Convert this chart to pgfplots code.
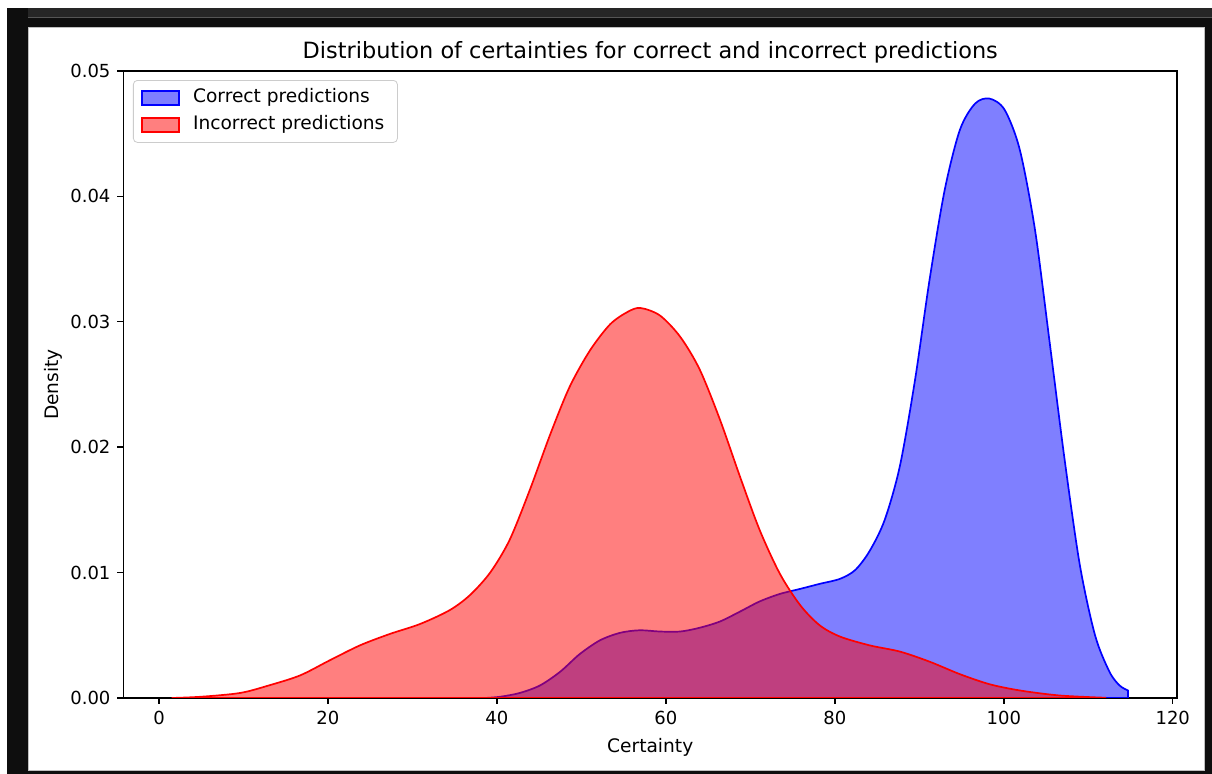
\documentclass[border=0pt]{standalone}
\usepackage{fontspec}
\setmainfont{DejaVu Sans}
\usepackage{pgfplots}
\pgfplotsset{compat=1.18}
\definecolor{framebg}{HTML}{0E0E0E}
\definecolor{barbg}{HTML}{262626}
\definecolor{barline}{HTML}{555555}

\begin{document}
\begin{tikzpicture}
\useasboundingbox (0pt,0pt) rectangle (606pt,387pt);
% screenshot frame
\fill[white] (0pt,0pt) rectangle (606pt,387pt);
\fill[framebg] (3.5pt,0pt) rectangle (606pt,383pt);
\fill[barbg] (14pt,378.5pt) rectangle (606pt,383pt);
\fill[barline] (14pt,378pt) rectangle (606pt,378.5pt);
\fill[white, draw=gray!50, line width=0.4pt] (14pt,2pt) rectangle (602pt,373.5pt);
\begin{axis}[
    at={(61.75pt,38pt)}, anchor=south west,
    scale only axis, width=526.75pt, height=313.5pt,
    xmin=-4.2, xmax=120.5, ymin=0, ymax=0.05,
    xtick={0,20,...,120},
    ytick={0,0.01,0.02,0.03,0.04,0.05},
    yticklabels={0.00,0.01,0.02,0.03,0.04,0.05},
    scaled y ticks=false,
    tick align=outside, xtick pos=bottom, ytick pos=left,
    major tick length=3pt,
    tick style={black, line width=0.7pt},
    axis line style={line width=0.7pt},
    /pgf/number format/assume math mode=true,
    ticklabel style={font=\fontsize{9}{10.8}\selectfont},
    every axis title shift=0pt,
    title={Distribution of certainties for correct and incorrect predictions},
    title style={font=\fontsize{11.2}{13.4}\selectfont, at={(axis description cs:0.5,1.0207)}, anchor=base},
    xlabel={Certainty},
    xlabel style={font=\fontsize{9.3}{11}\selectfont, at={(axis description cs:0.5,-0.0875)}, anchor=base},
    ylabel={Density},
    ylabel style={font=\fontsize{9.3}{11}\selectfont, at={(axis description cs:-0.0613,0.5)}, anchor=base},
    legend style={at={(axis description cs:0.009,0.9856)}, anchor=north west,
        draw=black!20, rounded corners=2pt, fill=white, fill opacity=0.8, text opacity=1,
        font=\fontsize{9.3}{11}\selectfont, inner xsep=4pt, inner ysep=2pt, row sep=0pt,
        nodes={text height=6.5pt, text depth=2pt, inner sep=2.5pt},
        /tikz/every odd column/.append style={column sep=4pt}},
    legend cell align={left},
    legend image code/.code={\draw[#1, sharp corners] (0pt,-3.5pt) rectangle (18.5pt,3.5pt);},
]
\addplot[draw=blue, fill=blue, fill opacity=0.5, line width=0.85pt, smooth] coordinates {
(38.6,0) (40.4,0.0001) (42.7,0.0004) (45.1,0.001) (47.5,0.0021) (49.8,0.0035)
(52.2,0.0046) (54.6,0.0052) (56.9,0.0054) (59.3,0.0053) (61.7,0.0053) (64,0.0056)
(66.4,0.0061) (68.8,0.0069) (71.1,0.0077) (73.5,0.0083) (75.9,0.0087) (78.2,0.0091)
(80.6,0.0095) (82.4,0.0102) (84.1,0.0117) (85.9,0.0142) (87.7,0.0185) (89.5,0.0254)
(91.2,0.0333) (93,0.0405) (94.8,0.0453) (96.6,0.0474) (98.3,0.0478) (100.1,0.0469)
(101.9,0.0437) (103.7,0.0373) (105.4,0.0285) (107.2,0.019) (109,0.0106) (110.8,0.005)
(112.5,0.0021) (113.7,0.001) (114.7,0.0006)
} \closedcycle;
\addlegendentry{Correct predictions}
\addplot[draw=red, fill=red, fill opacity=0.5, line width=0.85pt, smooth] coordinates {
(1.5,0) (5,0.0001) (9.6,0.0004) (13,0.001) (16.7,0.0018) (20.2,0.003) (23.8,0.0042)
(27.3,0.0051) (30.9,0.0059) (34.4,0.007) (36.8,0.0082) (39.2,0.01) (41.5,0.0126)
(43.9,0.0166) (46.3,0.021) (48.6,0.0248) (51,0.0277) (53.4,0.0298) (55.5,0.0308)
(57,0.0311) (59.3,0.0305) (61.7,0.0288) (64,0.0262) (66.4,0.0222) (68.8,0.0176)
(71.1,0.0134) (73.5,0.0099) (75.9,0.0074) (78.2,0.0058) (80.6,0.0049) (84.1,0.0042)
(87.7,0.0037) (91.2,0.0029) (94.8,0.0019) (98.3,0.0011) (101.9,0.0006) (106.6,0.0002)
(112,0.00002)
} \closedcycle;
\addlegendentry{Incorrect predictions}
\end{axis}
\end{tikzpicture}
\end{document}
